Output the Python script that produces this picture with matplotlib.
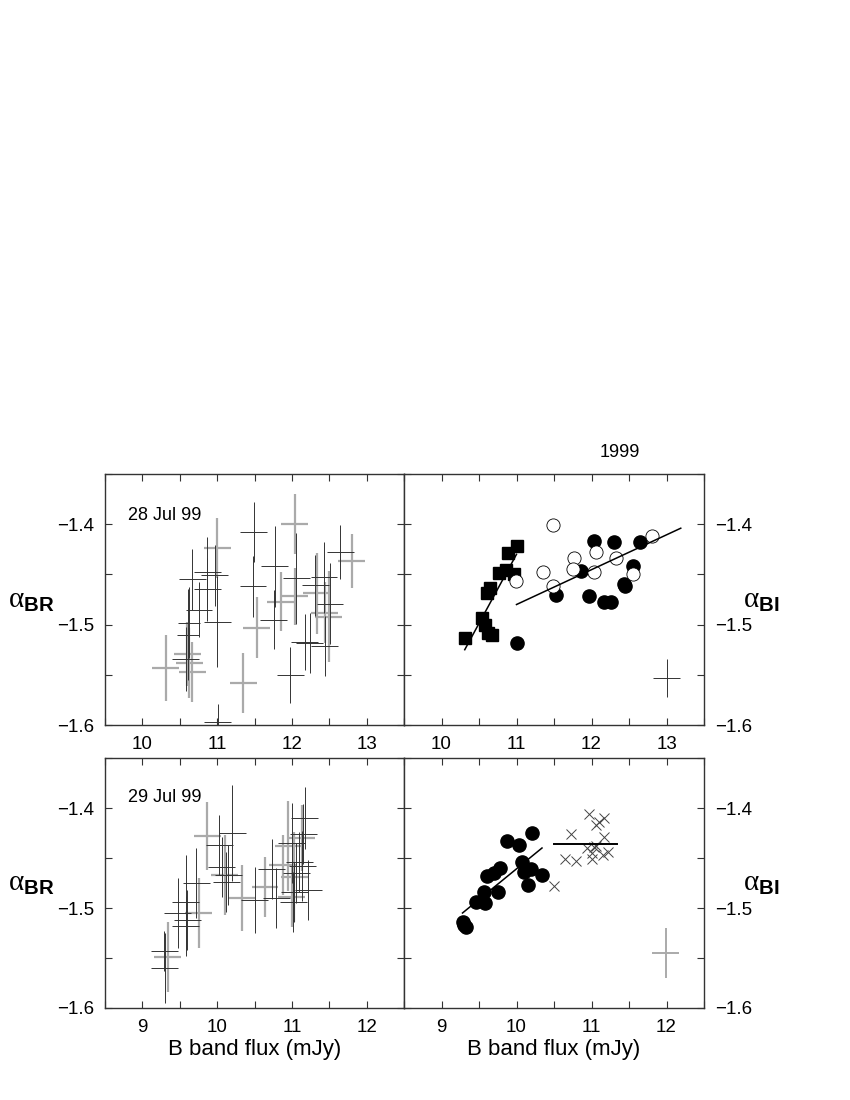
import matplotlib
matplotlib.use("Agg")
import matplotlib.pyplot as plt
from matplotlib.ticker import MultipleLocator

plt.rcParams['font.family'] = ['Liberation Sans', 'DejaVu Sans']
plt.rcParams['mathtext.fontset'] = 'custom'
plt.rcParams['mathtext.rm'] = 'Liberation Serif'
plt.rcParams['mathtext.bf'] = 'Liberation Sans:bold'
plt.rcParams['mathtext.it'] = 'Liberation Serif'

# ---------------- Data ----------------
# Top-left (28 Jul 99): alpha_BR vs B flux, dark and grey error crosses
tl_dark_x = [10.58, 10.61, 10.62, 10.76, 10.87, 10.67, 10.87, 10.97, 11.00, 11.01,
             11.49, 11.48, 11.77, 11.76, 12.06, 11.98, 12.17, 12.24, 12.31, 12.51,
             12.44, 12.65, 12.43]
tl_dark_y = [-1.534, -1.510, -1.498, -1.485, -1.465, -1.455, -1.448, -1.451, -1.497, -1.597,
             -1.408, -1.462, -1.442, -1.495, -1.454, -1.550, -1.517, -1.518, -1.461, -1.479,
             -1.521, -1.428, -1.453]
tl_dark_xe = [0.18, 0.15, 0.15, 0.17, 0.18, 0.18, 0.18, 0.18, 0.18, 0.18,
              0.18, 0.18, 0.18, 0.18, 0.18, 0.18, 0.18, 0.18, 0.18, 0.18,
              0.18, 0.18, 0.18]
tl_dark_ye = [0.032, 0.045, 0.035, 0.027, 0.031, 0.030, 0.035, 0.030, 0.045, 0.018,
              0.030, 0.030, 0.040, 0.029, 0.045, 0.028, 0.028, 0.030, 0.030, 0.040,
              0.030, 0.027, 0.035]
tl_grey_x = [10.31, 10.60, 10.625, 10.67, 11.00, 11.35, 11.53, 11.85, 12.04, 12.04,
             12.33, 12.44, 12.49, 12.80]
tl_grey_y = [-1.543, -1.529, -1.538, -1.547, -1.424, -1.558, -1.503, -1.477, -1.400, -1.472,
             -1.469, -1.488, -1.492, -1.437]
tl_grey_xe = [0.18] * 14
tl_grey_ye = [0.033, 0.032, 0.035, 0.030, 0.030, 0.030, 0.030, 0.029, 0.030, 0.028,
              0.040, 0.030, 0.045, 0.027]

# Top-right: alpha_BI vs B flux (1999)
tr_sq_x = [10.31, 10.54, 10.58, 10.625, 10.67, 10.61, 10.64, 10.76, 10.86, 10.97, 10.88, 11.00]
tr_sq_y = [-1.513, -1.493, -1.500, -1.508, -1.510, -1.469, -1.464, -1.449, -1.446, -1.450, -1.429, -1.422]
tr_fc_x = [11.01, 11.53, 11.86, 12.04, 11.97, 12.17, 12.26, 12.30, 12.44, 12.43, 12.55, 12.65]
tr_fc_y = [-1.518, -1.471, -1.447, -1.417, -1.472, -1.477, -1.477, -1.418, -1.462, -1.460, -1.442, -1.418]
tr_oc_x = [10.99, 11.35, 11.49, 11.48, 11.76, 11.75, 12.06, 12.04, 12.33, 12.55, 12.80]
tr_oc_y = [-1.457, -1.448, -1.401, -1.462, -1.434, -1.445, -1.428, -1.448, -1.434, -1.450, -1.412]
tr_fit1_x = [10.31, 11.00]
tr_fit1_y = [-1.525, -1.430]
tr_fit2_x = [11.00, 13.19]
tr_fit2_y = [-1.480, -1.404]
tr_err = (13.0, -1.553, 0.18, 0.019)

# Bottom-left (29 Jul 99)
bl_dark_x = [9.29, 9.30, 9.47, 9.58, 9.60, 9.58, 9.72, 10.03, 10.20, 10.06,
             10.15, 10.12, 10.50, 10.73, 10.79, 11.00, 11.03, 11.02, 11.06, 11.10,
             11.14, 11.17, 11.15, 11.22]
bl_dark_y = [-1.543, -1.560, -1.505, -1.494, -1.512, -1.518, -1.475, -1.437, -1.425, -1.459,
             -1.467, -1.474, -1.492, -1.461, -1.490, -1.435, -1.484, -1.494, -1.465, -1.454,
             -1.458, -1.410, -1.426, -1.482]
bl_dark_xe = [0.18] * 24
bl_dark_ye = [0.020, 0.035, 0.035, 0.047, 0.030, 0.030, 0.035, 0.030, 0.048, 0.030,
              0.030, 0.030, 0.033, 0.030, 0.030, 0.040, 0.030, 0.030, 0.030, 0.030,
              0.035, 0.031, 0.030, 0.030]
bl_grey_x = [9.34, 9.755, 9.87, 10.10, 10.33, 10.64, 10.88, 10.95, 11.00, 11.03, 11.13]
bl_grey_y = [-1.549, -1.505, -1.428, -1.467, -1.490, -1.479, -1.457, -1.438, -1.489, -1.469, -1.430]
bl_grey_xe = [0.18] * 11
bl_grey_ye = [0.035, 0.035, 0.034, 0.040, 0.033, 0.030, 0.030, 0.045, 0.030, 0.045, 0.033]

# Bottom-right
br_fc_x = [9.28, 9.32, 9.30, 9.455, 9.58, 9.57, 9.60, 9.70, 9.78, 9.755,
           9.87, 10.03, 10.21, 10.07, 10.10, 10.19, 10.34, 10.15]
br_fc_y = [-1.514, -1.519, -1.517, -1.494, -1.495, -1.484, -1.468, -1.465, -1.460, -1.484,
           -1.433, -1.437, -1.425, -1.454, -1.464, -1.461, -1.467, -1.477]
br_x_x = [10.50, 10.72, 10.64, 10.79, 10.96, 11.06, 11.10, 11.16, 11.03, 10.94,
          11.00, 11.06, 11.17, 11.01, 11.15, 11.22]
br_x_y = [-1.478, -1.426, -1.451, -1.453, -1.406, -1.417, -1.414, -1.410, -1.439, -1.440,
          -1.445, -1.438, -1.429, -1.451, -1.447, -1.444]
br_fit1_x = [9.28, 10.34]
br_fit1_y = [-1.505, -1.440]
br_fit2_x = [10.50, 11.34]
br_fit2_y = [-1.436, -1.436]
br_err = (11.99, -1.545, 0.18, 0.025)

# ---------------- Figure ----------------
fig = plt.figure(figsize=(8.5, 11), dpi=100)
L, M, R = 105 / 850, 404 / 850, 704 / 850
w1, w2 = M - L, R - M
top_b, top_h = 1 - 725 / 1100, (725 - 474) / 1100
bot_b, bot_h = 1 - 1008 / 1100, (1008 - 758) / 1100

ax_tl = fig.add_axes([L, top_b, w1, top_h])
ax_tr = fig.add_axes([M, top_b, w2, top_h])
ax_bl = fig.add_axes([L, bot_b, w1, bot_h])
ax_br = fig.add_axes([M, bot_b, w2, bot_h])

DARK = '#333333'
GREY = '#aaaaaa'
SPINE = '#333333'


def style(ax, xlim, right_labels):
    ax.set_xlim(*xlim)
    ax.set_ylim(-1.6, -1.35)
    ax.xaxis.set_major_locator(MultipleLocator(1.0))
    ax.xaxis.set_minor_locator(MultipleLocator(0.5))
    ax.yaxis.set_major_locator(MultipleLocator(0.1))
    ax.yaxis.set_minor_locator(MultipleLocator(0.05))
    for which in ('major', 'minor'):
        ax.tick_params(which=which, direction='in', length=5, width=0.8,
                       top=True, right=True, color=SPINE)
    ax.tick_params(which='major', labelsize=13.5, pad=8)
    if right_labels:
        ax.tick_params(labelleft=False, labelright=True)
    for s in ax.spines.values():
        s.set_color(SPINE)
        s.set_linewidth(1.0)


def crosses(ax, x, y, xe, ye, color, lw, z):
    ax.errorbar(x, y, xerr=xe, yerr=ye, fmt='none', ecolor=color,
                elinewidth=lw, capsize=0, zorder=z)


# Top-left
style(ax_tl, (9.5, 13.5), False)
crosses(ax_tl, tl_grey_x, tl_grey_y, tl_grey_xe, tl_grey_ye, GREY, 1.6, 2)
crosses(ax_tl, tl_dark_x, tl_dark_y, tl_dark_xe, tl_dark_ye, DARK, 0.7, 3)
ax_tl.text(0.077, 0.833, '28 Jul 99', transform=ax_tl.transAxes, fontsize=13,
           ha='left', va='center')

# Top-right
style(ax_tr, (9.5, 13.5), True)
ax_tr.plot(tr_fit1_x, tr_fit1_y, color='black', lw=1.1, zorder=4)
ax_tr.plot(tr_fit2_x, tr_fit2_y, color='black', lw=1.1, zorder=4)
ax_tr.plot(tr_sq_x, tr_sq_y, 's', color='black', ms=8, zorder=3)
ax_tr.plot(tr_fc_x, tr_fc_y, 'o', color='black', ms=9.5, zorder=3)
ax_tr.plot(tr_oc_x, tr_oc_y, 'o', mfc='white', mec='black', mew=0.6, ms=9.5, zorder=3)
crosses(ax_tr, [tr_err[0]], [tr_err[1]], [tr_err[2]], [tr_err[3]], DARK, 0.7, 3)
ax_tr.text(0.72, 1.084, '1999', transform=ax_tr.transAxes, fontsize=13,
           ha='center', va='center')

# Bottom-left
style(ax_bl, (8.5, 12.5), False)
crosses(ax_bl, bl_grey_x, bl_grey_y, bl_grey_xe, bl_grey_ye, GREY, 1.6, 2)
crosses(ax_bl, bl_dark_x, bl_dark_y, bl_dark_xe, bl_dark_ye, DARK, 0.7, 3)
ax_bl.text(0.077, 0.84, '29 Jul 99', transform=ax_bl.transAxes, fontsize=13,
           ha='left', va='center')

# Bottom-right
style(ax_br, (8.5, 12.5), True)
ax_br.plot(br_fit1_x, br_fit1_y, color='black', lw=1.1, zorder=4)
ax_br.plot(br_fit2_x, br_fit2_y, color='black', lw=1.4, zorder=4)
ax_br.plot(br_fc_x, br_fc_y, 'o', color='black', ms=9.5, zorder=3)
ax_br.plot(br_x_x, br_x_y, 'x', color='#444444', ms=6.5, mew=0.7, zorder=3)
crosses(ax_br, [br_err[0]], [br_err[1]], [br_err[2]], [br_err[3]], GREY, 1.4, 3)

# Axis labels
for ax in (ax_tl, ax_bl):
    ax.text(-0.245, 0.5, r'$\mathrm{\alpha}_{\mathbf{BR}}$', transform=ax.transAxes,
            fontsize=21, ha='center', va='center')
for ax in (ax_tr, ax_br):
    ax.text(1.19, 0.5, r'$\mathrm{\alpha}_{\mathbf{BI}}$', transform=ax.transAxes,
            fontsize=21, ha='center', va='center')
for ax in (ax_bl, ax_br):
    ax.set_xlabel('B band flux (mJy)', fontsize=16, labelpad=2)

fig.savefig('out.png', dpi=100)
